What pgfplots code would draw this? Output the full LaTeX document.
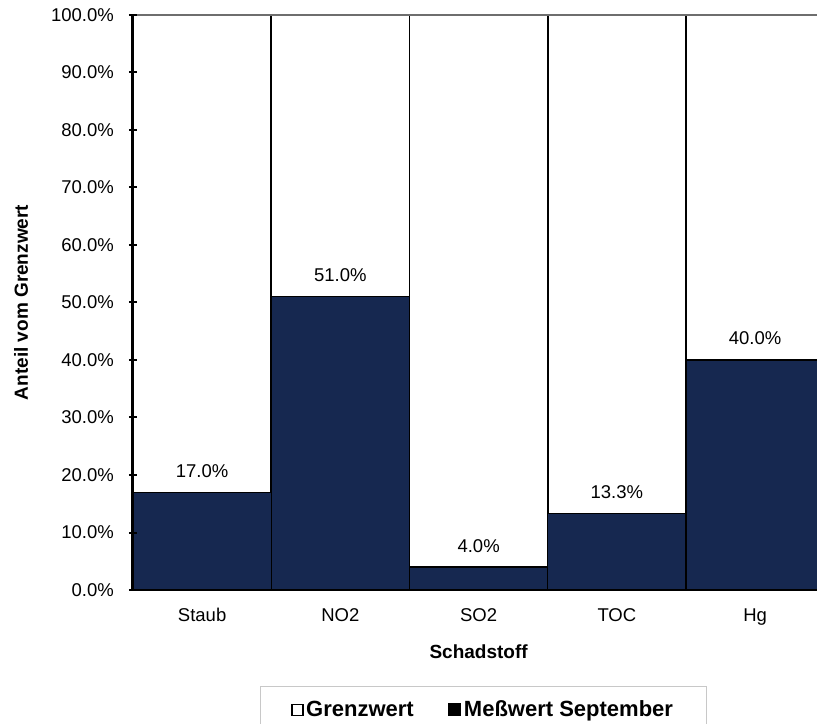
\documentclass[border=0pt]{standalone}
\usepackage{pgfplots}
\pgfplotsset{compat=1.18}
\usepackage{fontspec}
\setmainfont{Liberation Sans}

\definecolor{navy}{RGB}{22,40,80}
\definecolor{legendgray}{RGB}{200,200,200}
\definecolor{topgray}{RGB}{110,110,110}

\begin{document}
\begin{tikzpicture}
\begin{axis}[
    scale only axis,
    width=691.25bp, height=575bp,
    xmin=-0.5, xmax=4.5,
    ymin=0, ymax=100,
    clip=false,
    axis on top,
    axis x line*=bottom,
    axis y line*=left,
    x axis line style={line width=2bp, black},
    y axis line style={line width=3bp, black},
    xtick={0,1,2,3,4},
    xticklabels={Staub,NO2,SO2,TOC,Hg},
    minor xtick={-0.5,0.5,1.5,2.5,3.5},
    ytick={0,10,...,100},
    tick align=center,
    major tick length=8bp,
    minor tick length=8bp,
    xtick style={draw=none},
    ytick style={line width=2bp, black},
    minor x tick style={line width=2bp, black},
    /pgf/number format/assume math mode=true,
    yticklabel={\pgfmathprintnumber[fixed,fixed zerofill,precision=1]{\tick}\%},
    ticklabel style={font=\fontsize{18.5bp}{22bp}\selectfont},
    yticklabel style={anchor=east, inner sep=0pt, xshift=-15bp},
    xticklabel style={anchor=base, inner sep=0pt, yshift=-27bp},
    xlabel={Schadstoff},
    ylabel={Anteil vom Grenzwert},
    label style={font=\fontsize{19bp}{23bp}\selectfont\bfseries},
    xlabel style={at={(axis description cs:0.5,-0.1183)}, anchor=base},
    ylabel style={at={(axis description cs:-0.1519,0.5)}, anchor=base},
    legend columns=2,
    legend style={
        at={(axis description cs:0.507,-0.167)}, anchor=north,
        draw=legendgray, line width=1bp,
        font=\fontsize{22bp}{26bp}\selectfont\bfseries,
        inner xsep=31bp, inner ysep=12bp,
        nodes={inner sep=2.5bp},
        /tikz/every even column/.append style={column sep=32bp},
    },
]

\addplot[
    ybar, bar width=1, bar shift=0pt,
    fill=white, draw=black, line width=1.5bp,
    legend image code/.code={\draw[black, fill=white, line width=1.3bp] (0bp,-5.5bp) rectangle (11bp,5.5bp);},
    ]
    coordinates {
    (0,100)(1,100)(2,100)(3,100)(4,100)
    };
    \addlegendentry{Grenzwert}

\addplot[
    ybar, bar width=1, bar shift=0pt,
    fill=navy, draw=black, line width=1.2bp,
    nodes near coords={\pgfmathprintnumber[fixed,fixed zerofill,precision=1]{\pgfplotspointmeta}\%},
    every node near coord/.append style={anchor=base, inner sep=0pt, yshift=15bp,
        text=black, font=\fontsize{18.5bp}{22bp}\selectfont},
    legend image code/.code={\fill[black] (-0.5bp,-6bp) rectangle (11.5bp,6bp);},
    ]
    coordinates {
    (0,17.0)(1,51.0)(2,4.0)(3,13.3)(4,40.0)
    };
    \addlegendentry{Meßwert September}

\draw[topgray, line width=1.5bp] (axis cs:-0.5,100) -- (axis cs:4.5,100);
\coordinate (O) at (axis cs:-0.5,0);
\end{axis}
\pgfresetboundingbox
\path[use as bounding box] (O) ++(-133bp,-134bp) rectangle ++(817bp,724bp);
\end{tikzpicture}
\end{document}
